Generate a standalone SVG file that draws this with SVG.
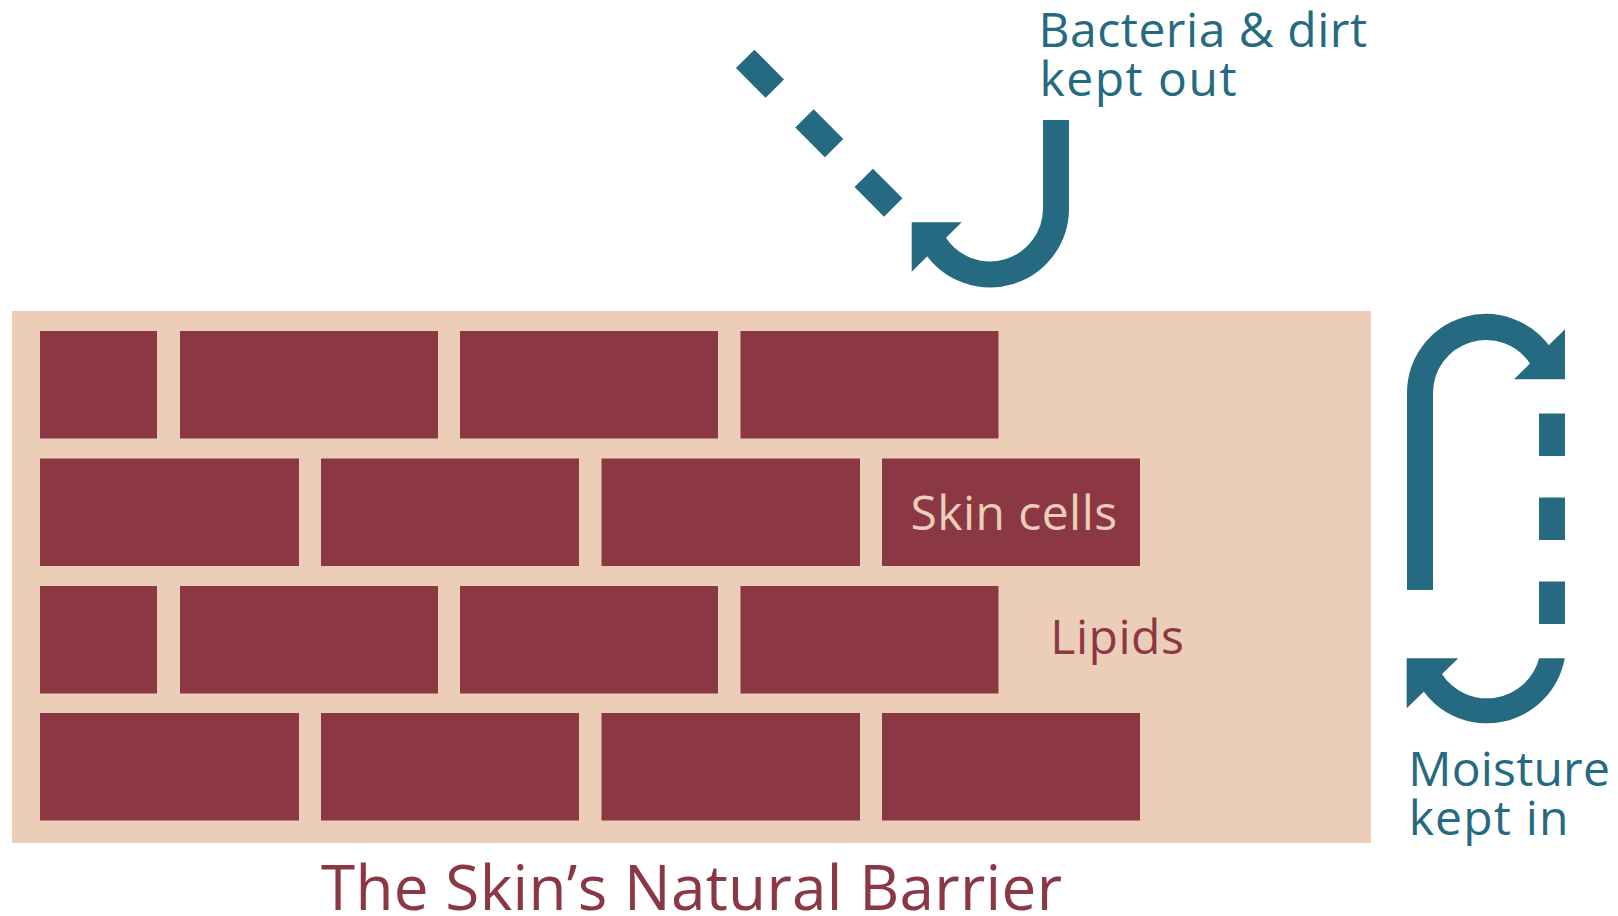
<svg xmlns="http://www.w3.org/2000/svg" width="1618" height="916" viewBox="0 0 1618 916">
  <style>
    .brick { fill: #8b3744; }
    .lbl { font-family: "Open Sans", "Noto Sans", "DejaVu Sans", sans-serif; }
    .teal { fill: #256a80; }
    .maroon { fill: #8b3744; }
    .arrow { fill: none; stroke: #256a80; stroke-width: 26; stroke-linecap: butt; }
    .head { fill: #256a80; }
  </style>
  <rect x="0" y="0" width="1618" height="916" fill="#ffffff"/>

  <g id="barrier">
    <rect x="12" y="311" width="1359" height="532" fill="#ebcdb8"/>
  </g>

  <g id="bricks">
    <rect class="brick" x="40" y="331" width="117" height="107.5"/>
    <rect class="brick" x="180" y="331" width="258" height="107.5"/>
    <rect class="brick" x="460" y="331" width="258" height="107.5"/>
    <rect class="brick" x="740.5" y="331" width="258" height="107.5"/>

    <rect class="brick" x="40" y="458.5" width="259" height="107.5"/>
    <rect class="brick" x="321" y="458.5" width="258" height="107.5"/>
    <rect class="brick" x="601.5" y="458.5" width="258.5" height="107.5"/>
    <rect class="brick" x="882" y="458.5" width="258" height="107.5"/>

    <rect class="brick" x="40" y="586" width="117" height="107.5"/>
    <rect class="brick" x="180" y="586" width="258" height="107.5"/>
    <rect class="brick" x="460" y="586" width="258" height="107.5"/>
    <rect class="brick" x="740.5" y="586" width="258" height="107.5"/>

    <rect class="brick" x="40" y="713" width="259" height="107.5"/>
    <rect class="brick" x="321" y="713" width="258" height="107.5"/>
    <rect class="brick" x="601.5" y="713" width="258.5" height="107.5"/>
    <rect class="brick" x="882" y="713" width="258" height="107.5"/>
  </g>

  <g id="connectors">
    <!-- bacteria kept out -->
    <path class="arrow" stroke-width="24" stroke-dasharray="42 42" d="M745.15,58.85 L893.25,207.45"/>
    <path class="arrow" d="M1056,120 V208.4 A66,66 0 0 1 934.65,244.35"/>
    <polygon class="head" points="911.7,222.3 961.7,222.3 911.7,271.7"/>

    <!-- moisture kept in -->
    <path class="arrow" d="M1420,590 V393 A66,66 0 0 1 1541.4,357.1"/>
    <polygon class="head" points="1565,329.3 1565,379.3 1514,379.3"/>
    <path class="arrow" stroke-dasharray="42.5 41.5" d="M1552,413.5 V624"/>
    <path class="head" d="M1539.15,658.3 L1564.75,658.3 A79,79 0 0 1 1420.7,687.3 L1441.7,673.7 A54,54 0 0 0 1539.15,658.3 Z"/>
    <polygon class="head" points="1406.7,658.3 1458.3,658.3 1406.7,708.3"/>
  </g>

  <g id="label-bacteria">
    <text class="lbl teal" x="1038.5" y="47" font-size="48" textLength="328.6" lengthAdjust="spacing">Bacteria &amp; dirt</text>
    <text class="lbl teal" x="1039.5" y="96" font-size="48" textLength="197" lengthAdjust="spacing">kept out</text>
  </g>

  <g id="label-moisture">
    <text class="lbl teal" x="1408.3" y="786" font-size="48" textLength="201.6" lengthAdjust="spacing">Moisture</text>
    <text class="lbl teal" x="1408.7" y="835" font-size="48" textLength="159.7" lengthAdjust="spacing">kept in</text>
  </g>

  <g id="label-skin-cells">
    <text class="lbl" fill="#ebcdb8" x="910.6" y="530" font-size="48" textLength="206.5" lengthAdjust="spacing">Skin cells</text>
  </g>

  <g id="label-lipids">
    <text class="lbl maroon" x="1050.3" y="654" font-size="48" textLength="133.5" lengthAdjust="spacing">Lipids</text>
  </g>

  <g id="title">
    <text class="lbl maroon" x="321" y="910" font-size="62" textLength="741" lengthAdjust="spacing">The Skin’s Natural Barrier</text>
  </g>
</svg>
